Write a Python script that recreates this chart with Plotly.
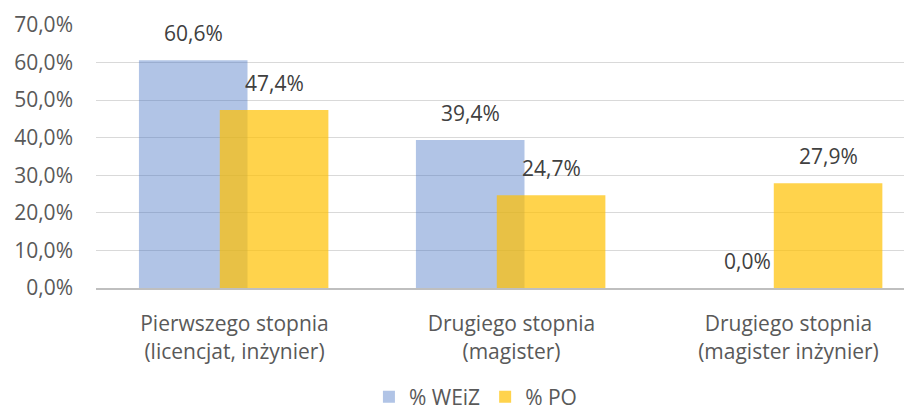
import plotly.graph_objects as go

categories = ["Pierwszego stopnia<br>(licencjat, inżynier)",
              "Drugiego stopnia<br>(magister)",
              "Drugiego stopnia<br>(magister inżynier)"]
weiz = [0.606, 0.394, 0.0]
po = [0.474, 0.247, 0.279]
yticks = [0, 0.1, 0.2, 0.3, 0.4, 0.5, 0.6, 0.7]

FONT = "Open Sans"
FS = 21
BW = 0.392
OFF_B = -0.345
OFF_Y = -0.053

def fmt(v):
    return f"{v * 100:.1f}%".replace(".", ",")

fig = go.Figure()
fig.add_trace(go.Bar(
    x=categories, y=weiz, name="% WEiZ",
    marker=dict(color="rgba(68,114,196,0.42)", line=dict(width=0)),
    width=BW, offset=OFF_B,
))
fig.add_trace(go.Bar(
    x=categories, y=po, name="% PO",
    marker=dict(color="rgba(255,192,0,0.70)", line=dict(width=0)),
    width=BW, offset=OFF_Y,
))

annotations = []
for i, (b, p) in enumerate(zip(weiz, po)):
    for v, off in ((b, OFF_B), (p, OFF_Y)):
        annotations.append(dict(
            x=i + off + BW / 2, y=v, xref="x", yref="y",
            text=fmt(v), showarrow=False, yanchor="bottom", yshift=11,
            font=dict(family=FONT, size=FS, color="#404040"),
        ))

# The page body has an 8px default margin, so the figure is 8px smaller.
fig.update_layout(
    width=904, height=400,
    margin=dict(l=88, r=0, t=17, b=120),
    barmode="overlay",
    separators=",.",
    plot_bgcolor="white", paper_bgcolor="white",
    font=dict(family=FONT, size=FS, color="#595959"),
    showlegend=True,
    legend=dict(orientation="h", x=0.465, xanchor="center",
                y=11 / 400, yref="container", yanchor="middle",
                font=dict(family=FONT, size=FS, color="#595959"),
                traceorder="normal"),
    annotations=annotations,
)
fig.update_xaxes(range=[-0.5, 2.446], showgrid=False, showline=True,
                 linecolor="#BFBFBF", linewidth=2, automargin=False,
                 tickfont=dict(family=FONT, size=FS, color="#595959"),
                 ticks="", ticklabelstandoff=16)
fig.update_yaxes(range=[0, 0.7], tickvals=yticks, tickformat=".1%",
                 showgrid=True, gridcolor="#D9D9D9", gridwidth=1,
                 zeroline=False, showline=False, ticks="", automargin=False,
                 ticklabelstandoff=22,
                 tickfont=dict(family=FONT, size=FS, color="#595959"))
fig.write_html("out.html")
